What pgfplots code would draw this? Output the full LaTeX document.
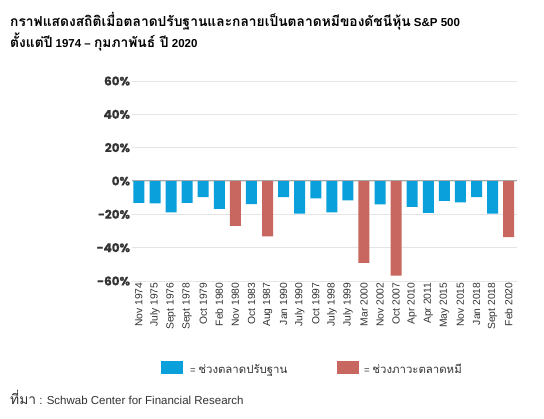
\documentclass[border=0pt]{standalone}
\usepackage{pgfplots}
\pgfplotsset{compat=1.18}
\usepackage{fontspec}
\setmainfont{Liberation Sans}
\newfontfamily\thaifont[Script=Thai,Scale=1.2]{Loma}
\newfontfamily\popfont[FakeBold=0.6]{Poppins}
\definecolor{barblue}{HTML}{0AA0DC}
\definecolor{barred}{HTML}{C8675F}
\definecolor{txt}{HTML}{333333}
\begin{document}
\begin{tikzpicture}[x=1pt,y=1pt]
\useasboundingbox (0,0) rectangle (544,419);
\fill[white] (0,0) rectangle (544,419);
\begin{axis}[
  at={(131.7pt,138pt)}, anchor=south west,
  scale only axis, width=385pt, height=200pt,
  xmin=-0.45, xmax=23.5, ymin=-60, ymax=60,
  axis line style={draw=none},
  tick style={draw=none},
  ytick={-60,-40,-20,0,20,40,60},
  yticklabels={-60\%,-40\%,-20\%,0\%,20\%,40\%,60\%},
  yticklabel style={font=\popfont\bfseries\fontsize{12}{13}\selectfont, text=txt, inner sep=1.5pt},
  xtick={0,...,23},
  xticklabels={Nov 1974,July 1975,Sept 1976,Sept 1978,Oct 1979,Feb 1980,Nov 1980,Oct 1983,Aug 1987,Jan 1990,July 1990,Oct 1997,July 1998,July 1999,Mar 2000,Nov 2002,Oct 2007,Apr 2010,Apr 2011,May 2015,Nov 2015,Jan 2018,Sept 2018,Feb 2020},
  xticklabel style={rotate=90, anchor=east, font=\fontsize{10.3}{11}\selectfont, text=txt, inner sep=1.5pt},
  major tick length=0pt,
  ymajorgrids, grid style={draw=black!10, line width=0.8pt},
  ybar, bar width=11pt, bar shift=0pt,
  clip=false,
]
\addplot[fill=barblue, draw=none] coordinates {
 (0,-13.1) (1,-13.5) (2,-18.8) (3,-13.1) (4,-9.7) (5,-16.8) (7,-13.9)
 (9,-9.7) (10,-19.6) (11,-10.5) (12,-18.8) (13,-11.7) (15,-14.1)
 (17,-15.6) (18,-19.2) (19,-11.9) (20,-12.9) (21,-9.7) (22,-19.6)};
\addplot[fill=barred, draw=none] coordinates {
 (6,-26.9) (8,-33.3) (14,-49.1) (16,-56.8) (23,-33.7)};
\draw[black!35, line width=1pt] (axis cs:-0.45,0) -- (axis cs:23.5,0);
\end{axis}
% title
\node[anchor=base west, inner sep=0, text=black] at (10,392)
  {\fontsize{11.5}{13}\selectfont\bfseries{\thaifont กราฟแสดงสถิติเมื่อตลาดปรับฐานและกลายเป็นตลาดหมีของดัชนีหุ้น} S\&P 500};
\node[anchor=base west, inner sep=0, text=black] at (10,371)
  {\fontsize{11.5}{13}\selectfont\bfseries{\thaifont ตั้งแต่ปี} 1974 – {\thaifont กุมภาพันธ์ ปี} 2020};
% legend
\fill[barblue] (161,45) rectangle (183,58);
\node[anchor=base west, inner sep=0, text=txt] at (190,45)
  {\fontsize{9.5}{12}\selectfont = {\thaifont ช่วงตลาดปรับฐาน}};
\fill[barred] (337,45) rectangle (359,58);
\node[anchor=base west, inner sep=0, text=txt] at (364,45)
  {\fontsize{9.5}{12}\selectfont = {\thaifont ช่วงภาวะตลาดหมี}};
% source
\node[anchor=base west, inner sep=0, text=txt] at (10,14)
  {\fontsize{11.5}{12}\selectfont{\thaifont ที่มา} : Schwab Center for Financial Research};
\end{tikzpicture}
\end{document}
